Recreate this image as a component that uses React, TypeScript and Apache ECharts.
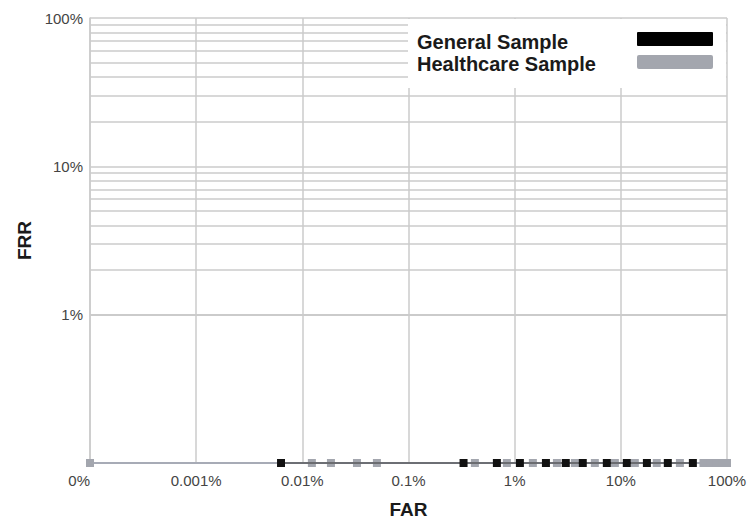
import React, { useEffect, useRef } from "react";
import * as echarts from "echarts";

// FAR (x) values where the FRR reached 0 (plotted on the bottom edge of the log axis)
const generalFAR = [0.000063, 0.0033, 0.0068, 0.0112, 0.0197, 0.0303, 0.0438, 0.0738, 0.1138, 0.176, 0.277, 0.477];
const generalFRR = [0.001, 0.001, 0.001, 0.001, 0.001, 0.001, 0.001, 0.001, 0.001, 0.001, 0.001, 0.001];

const healthFAR = [0.000001, 0.000123, 0.000186, 0.000327, 0.000504, 0.00422, 0.00845, 0.01484, 0.025, 0.0369, 0.0569, 0.0879, 0.1355, 0.218, 0.36, 0.6, 0.7, 0.8, 0.9, 1.0];
const healthFRR = [0.001, 0.001, 0.001, 0.001, 0.001, 0.001, 0.001, 0.001, 0.001, 0.001, 0.001, 0.001, 0.001, 0.001, 0.001, 0.001, 0.001, 0.001, 0.001, 0.001];

const xTickLabels = ["0%", "0.001%", "0.01%", "0.1%", "1%", "10%", "100%"];
const yTickLabels = ["", "1%", "10%", "100%"];
const minorY = [
  0.002, 0.003, 0.004, 0.005, 0.006, 0.007, 0.008, 0.009,
  0.02, 0.03, 0.04, 0.05, 0.06, 0.07, 0.08, 0.09,
  0.2, 0.3, 0.4, 0.5, 0.6, 0.7, 0.8, 0.9,
];

const seriesNames = ["General Sample", "Healthcare Sample"];
const GRID = "#cbcbcb";
const FONT = "'Liberation Sans', Arial, sans-serif";

export default function App() {
  const ref = useRef<HTMLDivElement>(null);
  useEffect(() => {
    if (!ref.current) return;
    const chart = echarts.init(ref.current, null, { renderer: "svg" });
    chart.setOption({
      animation: false,
      backgroundColor: "#fff",
      grid: { left: 90, right: 22, top: 18, bottom: 59, containLabel: false, outerBoundsMode: "none" },
      xAxis: {
        type: "log",
        logBase: 10,
        min: 0.000001,
        max: 1,
        splitNumber: 6,
        name: "FAR",
        nameLocation: "middle",
        nameGap: 37,
        nameTextStyle: { fontFamily: FONT, fontWeight: "bold", fontSize: 19, color: "#1a1a1a" },
        axisLine: { show: true, lineStyle: { color: GRID, width: 1.5 } },
        axisTick: { show: false },
        splitLine: { show: true, lineStyle: { color: GRID, width: 1.5 } },
        axisLabel: {
          fontFamily: FONT,
          fontSize: 15,
          color: "#444",
          margin: 10,
          alignMinLabel: "right",
          formatter: (v: number) => {
            const i = Math.round(Math.log10(v)) + 6;
            return xTickLabels[i] ?? "";
          },
        },
      },
      yAxis: {
        type: "log",
        logBase: 10,
        min: 0.001,
        max: 1,
        splitNumber: 3,
        name: "FRR",
        nameLocation: "middle",
        nameGap: 56,
        nameRotate: 90,
        nameTextStyle: { fontFamily: FONT, fontWeight: "bold", fontSize: 19, color: "#1a1a1a" },
        axisLine: { show: true, lineStyle: { color: GRID, width: 1.5 } },
        axisTick: { show: false },
        splitLine: { show: true, lineStyle: { color: GRID, width: 1.5 } },
        axisLabel: {
          fontFamily: FONT,
          fontSize: 15,
          color: "#444",
          margin: 7,
          formatter: (v: number) => {
            const i = Math.round(Math.log10(v)) + 3;
            return yTickLabels[i] ?? "";
          },
        },
      },
      series: [
        {
          name: seriesNames[1],
          type: "line",
          data: healthFAR.map((x, i) => [x, healthFRR[i]]),
          symbol: "rect",
          symbolSize: 8,
          clip: false,
          itemStyle: { color: "#a3a6ae" },
          lineStyle: { color: "#9aa0ae", width: 1.5 },
          z: 3,
          markLine: {
            silent: true,
            symbol: ["none", "none"],
            label: { show: false },
            lineStyle: { color: GRID, width: 1.5, type: "solid" },
            z: 1,
            data: minorY.map((v) => ({ yAxis: v })),
          },
        },
        {
          name: seriesNames[0],
          type: "line",
          data: generalFAR.map((x, i) => [x, generalFRR[i]]),
          symbol: "rect",
          symbolSize: 8,
          clip: false,
          itemStyle: { color: "#111" },
          lineStyle: { color: "#333", width: 1 },
          z: 4,
        },
      ],
      graphic: [
        {
          type: "rect",
          z: 100,
          shape: { x: 408, y: 19, width: 318, height: 69 },
          style: { fill: "#fff" },
        },
        {
          type: "text",
          z: 101,
          x: 417,
          y: 42,
          style: { text: seriesNames[0], fontFamily: FONT, fontWeight: "bold", fontSize: 20, fill: "#1a1a1a", verticalAlign: "middle" },
        },
        {
          type: "text",
          z: 101,
          x: 417,
          y: 64,
          style: { text: seriesNames[1], fontFamily: FONT, fontWeight: "bold", fontSize: 20, fill: "#1a1a1a", verticalAlign: "middle" },
        },
        {
          type: "rect",
          z: 101,
          shape: { x: 637, y: 32, width: 76, height: 14, r: 1 },
          style: { fill: "#000" },
        },
        {
          type: "rect",
          z: 101,
          shape: { x: 637, y: 55, width: 76, height: 14, r: 2 },
          style: { fill: "#a3a6ae" },
        },
      ],
    });
    return () => chart.dispose();
  }, []);
  return (
    <div
      ref={ref}
      style={{ position: "absolute", left: 0, top: 0, width: 749, height: 522 }}
    />
  );
}
